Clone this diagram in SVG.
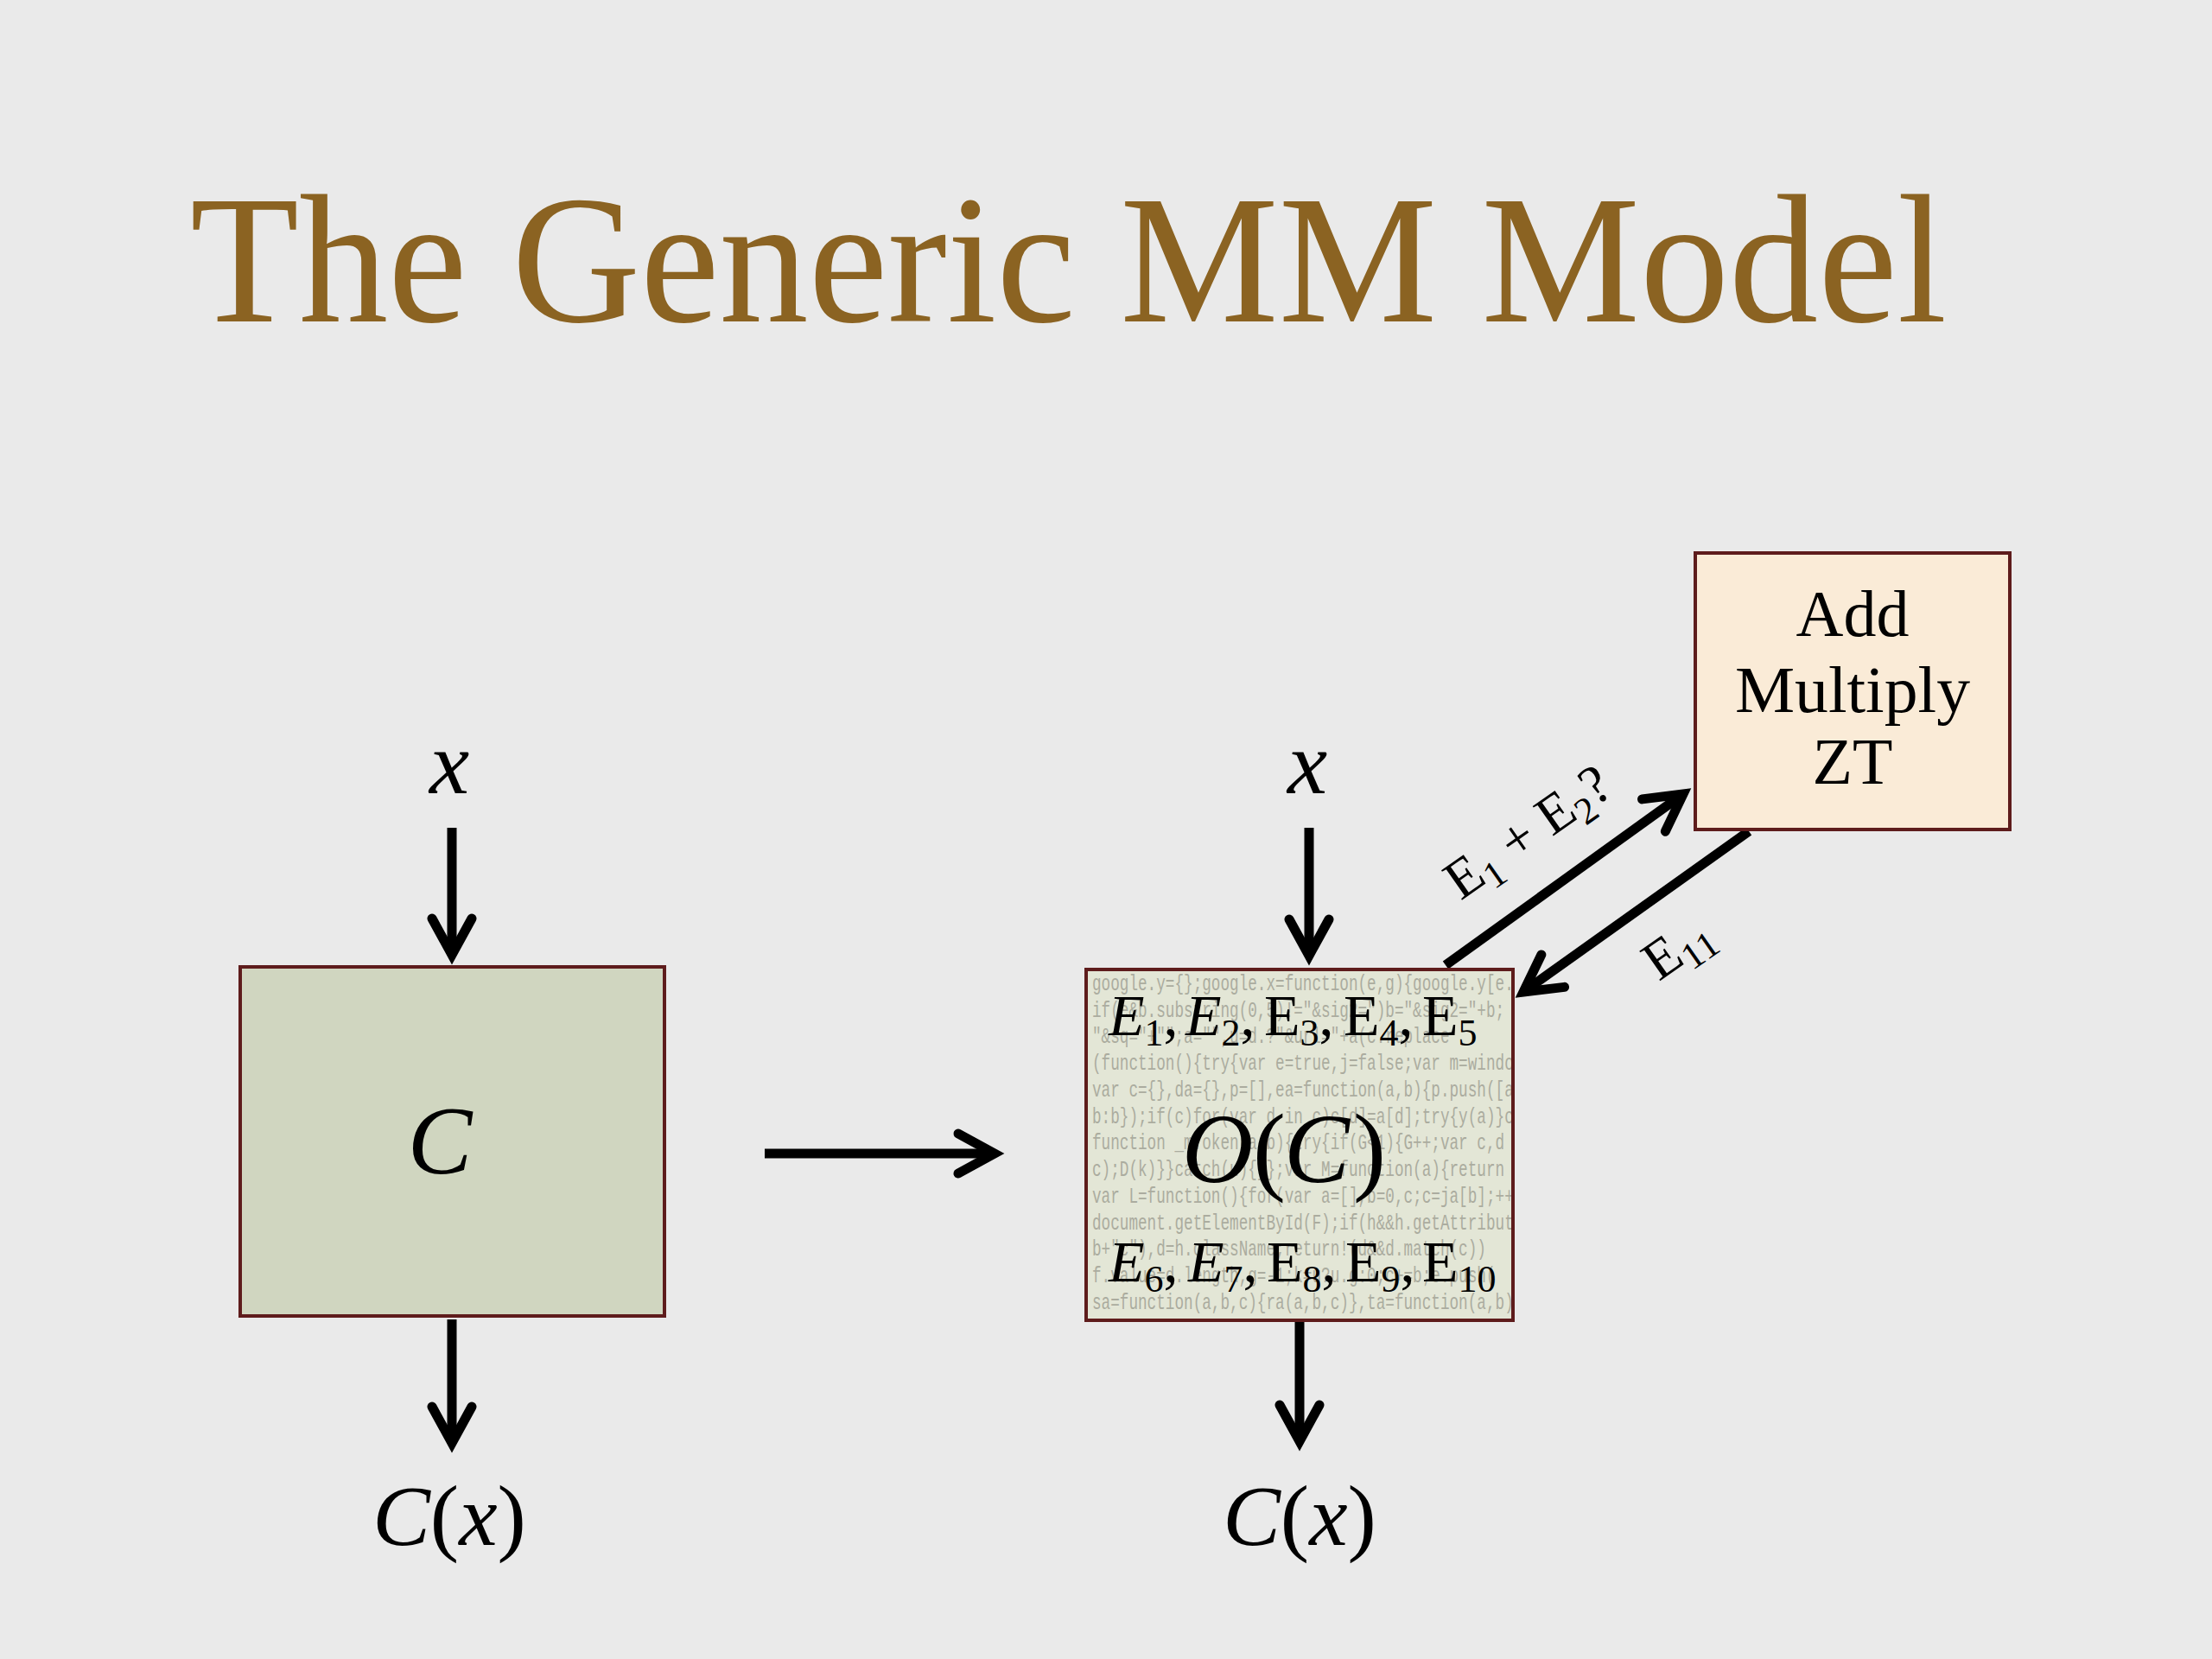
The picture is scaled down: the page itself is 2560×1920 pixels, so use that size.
<svg xmlns="http://www.w3.org/2000/svg" width="2560" height="1920" viewBox="0 0 2560 1920">
<style>
.title{font-family:"Liberation Serif","DejaVu Serif",serif;font-size:212px;fill:#8B6322}
.math{font-family:"Liberation Serif","DejaVu Serif",serif;font-style:italic;fill:#000}
.rm{font-family:"Liberation Serif","DejaVu Serif",serif;fill:#000}
.code{font-family:"Liberation Mono","DejaVu Sans Mono",monospace;font-size:26px;fill:#ABAC9F}
.box{stroke:#5E1C1C;stroke-width:4}
.arrow{stroke:#000;stroke-width:11;fill:none;marker-end:url(#head)}
</style>
<defs>
<marker id="head" markerUnits="userSpaceOnUse" markerWidth="100" markerHeight="100" viewBox="-70 -50 100 100" refX="0" refY="0" orient="auto" overflow="visible">
<path d="M-42,-23 L0,0 L-42,23" fill="none" stroke="#000" stroke-width="11" stroke-linejoin="miter" stroke-miterlimit="10" stroke-linecap="round"/>
</marker>
<clipPath id="obfclip"><rect x="1259" y="1124" width="490" height="402"/></clipPath>
</defs>
<rect x="0" y="0" width="2560" height="1920" fill="#EAEAEA"/>
<text class="title" x="220" y="372" textLength="2033" lengthAdjust="spacingAndGlyphs">The Generic MM Model</text>

<g id="connectors">
<line class="arrow" x1="523" y1="958" x2="523" y2="1105"/>
<line class="arrow" x1="523" y1="1527" x2="523" y2="1670"/>
<line class="arrow" x1="885" y1="1335" x2="1151" y2="1335"/>
<line class="arrow" x1="1515" y1="958" x2="1515" y2="1106"/>
<line class="arrow" x1="1504" y1="1530" x2="1504" y2="1668"/>
<line class="arrow" x1="1673" y1="1117" x2="1948" y2="919"/>
<line class="arrow" x1="2024" y1="962" x2="1763" y2="1148"/>
<text class="rm" font-size="64" text-anchor="middle" transform="translate(1780,980) rotate(-35)">E<tspan font-size="44" dy="12">1</tspan><tspan dy="-12"> + E</tspan><tspan font-size="44" dy="12">2</tspan><tspan dy="-12">?</tspan></text>
<text class="rm" font-size="64" text-anchor="middle" transform="translate(1953,1113) rotate(-35)">E<tspan font-size="44" dy="12">11</tspan></text>
</g>

<g id="input-left"><text class="math" font-size="104" x="520" y="918" text-anchor="middle">x</text></g>
<g id="circuit-C">
<rect class="box" x="278" y="1119" width="491" height="404" fill="#D0D6C0"/>
<text class="math" font-size="112" x="509" y="1358" text-anchor="middle">C</text>
</g>
<g id="output-left"><text class="math" font-size="100" x="520" y="1788" text-anchor="middle">C<tspan font-style="normal">(</tspan>x<tspan font-style="normal">)</tspan></text></g>

<g id="input-right"><text class="math" font-size="104" x="1513" y="918" text-anchor="middle">x</text></g>
<g id="obfuscated-OC">
<rect x="1257" y="1122" width="494" height="406" fill="#E3E6D6"/>
<g clip-path="url(#obfclip)">
<g class="code" transform="translate(1264 0) scale(0.68 1)">
<text x="0" y="1146">google.y={};google.x=function(e,g){google.y[e.</text>
<text x="0" y="1177">if(e&amp;b.substring(0,5)!="&amp;sig2=")b="&amp;sig2="+b;</text>
<text x="0" y="1207">"&amp;sq="+"";a="",u=d.?"&amp;url="+a(c.replace</text>
<text x="0" y="1238">(function(){try{var e=true,j=false;var m=windo</text>
<text x="0" y="1269">var c={},da={},p=[],ea=function(a,b){p.push([a</text>
<text x="0" y="1300">b:b});if(c)for(var d in c)c[d]=a[d];try{y(a)}ca</text>
<text x="0" y="1330">function _mToken(a,b){try{if(G&lt;1){G++;var c,d</text>
<text x="0" y="1361">c);D(k)}}catch(u){}};var M=function(a){return a</text>
<text x="0" y="1392">var L=function(){for(var a=[],b=0,c;c=ja[b];++</text>
<text x="0" y="1423">document.getElementById(F);if(h&amp;&amp;h.getAttribut</text>
<text x="0" y="1453">b+"c"),d=h.className;return!(d&amp;&amp;d.match(c))</text>
<text x="0" y="1484">f.value=d.length,g=-1;k=u?u.g:0;c+=b;e.push(</text>
<text x="0" y="1515">sa=function(a,b,c){ra(a,b,c)},ta=function(a,b)</text>
</g>
</g>
<rect class="box" x="1257" y="1122" width="494" height="406" fill="none"/>
<text font-size="68" y="1198">
<tspan class="math" x="1283">E</tspan><tspan class="rm" font-size="44" dy="12">1</tspan><tspan class="rm" dy="-12">,</tspan>
<tspan class="math" x="1372">E</tspan><tspan class="rm" font-size="44" dy="12">2</tspan><tspan class="rm" dy="-12">,</tspan>
<tspan class="rm" x="1463">E</tspan><tspan class="rm" font-size="44" dy="12">3</tspan><tspan class="rm" dy="-12">,</tspan>
<tspan class="rm" x="1555">E</tspan><tspan class="rm" font-size="44" dy="12">4</tspan><tspan class="rm" dy="-12">,</tspan>
<tspan class="rm" x="1646">E</tspan><tspan class="rm" font-size="44" dy="12">5</tspan>
</text>
<text font-size="114" y="1368"><tspan class="math" x="1368">O</tspan><tspan class="rm" x="1450">(</tspan><tspan class="math" x="1486">C</tspan><tspan class="rm" x="1566">)</tspan></text>
<text font-size="68" y="1483">
<tspan class="math" x="1283">E</tspan><tspan class="rm" font-size="44" dy="12">6</tspan><tspan class="rm" dy="-12">,</tspan>
<tspan class="math" x="1375">E</tspan><tspan class="rm" font-size="44" dy="12">7</tspan><tspan class="rm" dy="-12">,</tspan>
<tspan class="rm" x="1466">E</tspan><tspan class="rm" font-size="44" dy="12">8</tspan><tspan class="rm" dy="-12">,</tspan>
<tspan class="rm" x="1557">E</tspan><tspan class="rm" font-size="44" dy="12">9</tspan><tspan class="rm" dy="-12">,</tspan>
<tspan class="rm" x="1646">E</tspan><tspan class="rm" font-size="44" dy="12">10</tspan>
</text>
</g>
<g id="output-right"><text class="math" font-size="100" x="1504" y="1788" text-anchor="middle">C<tspan font-style="normal">(</tspan>x<tspan font-style="normal">)</tspan></text></g>

<g id="add-multiply-zt">
<rect class="box" x="1962" y="640" width="364" height="320" fill="#FAEBD7"/>
<text class="rm" font-size="76" text-anchor="middle"><tspan x="2144" y="736">Add</tspan><tspan x="2144" y="824" textLength="272" lengthAdjust="spacingAndGlyphs">Multiply</tspan><tspan x="2144" y="907">ZT</tspan></text>
</g>
</svg>
